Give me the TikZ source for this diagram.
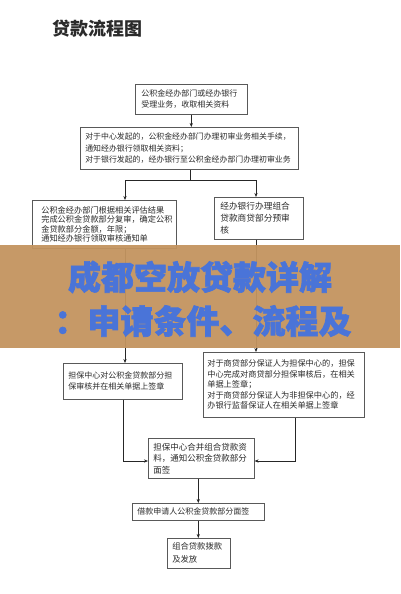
\documentclass[tikz,border=0pt]{standalone}
\usepackage{fontspec}
\newfontfamily\cjk{Noto Sans CJK SC}
\newfontfamily\cjkh{Noto Sans CJK SC}[BoldFeatures={FakeBold=2}]
\usetikzlibrary{arrows.meta}
\definecolor{bannerbg}{HTML}{C3945F}
\definecolor{bluetxt}{HTML}{4A74D8}
\definecolor{txt}{HTML}{2B2B2B}
\tikzset{
 box/.style={draw=black!65, line width=0.6pt, anchor=north west, inner ysep=0pt, align=left, text=txt},
 arr/.style={-{Stealth[length=4pt,width=3.2pt]}, line width=0.6pt, draw=black!85},
 ln/.style={line width=0.6pt, draw=black!85},
 bannertext/.style={font=\cjkh\bfseries\fontsize{33}{33}\selectfont, text=bluetxt, inner sep=0pt},
}
\begin{document}
\begin{tikzpicture}[x=1pt,y=-1pt]
\useasboundingbox[fill=white] (0,0) rectangle (400,594);
\node[font=\cjk\bfseries\fontsize{18}{18}\selectfont, text=txt, inner sep=0pt] (title) at (97.5,28.5) {贷款流程图};

\node[box, font=\cjk\fontsize{8}{11}\selectfont, minimum width=110pt, minimum height=30pt, text width=100pt, inner xsep=6pt] (b1) at (135,84) {公积金经办部门或经办银行\\受理业务，收取相关资料};

\node[box, font=\cjk\fontsize{7.9}{11.5}\selectfont, minimum width=218pt, minimum height=42pt, text width=208pt, inner xsep=5pt] (b2) at (80,127) {对于中心发起的，公积金经办部门办理初审业务相关手续，\\通知经办银行领取相关资料；\\对于银行发起的，经办银行至公积金经办部门办理初审业务};

\node[box, font=\cjk\fontsize{8.2}{9.3}\selectfont, minimum width=136pt, minimum height=48pt, text width=126pt, inner xsep=9pt] (b3) at (32,200) {公积金经办部门根据相关评估结果\\完成公积金贷款部分复审，确定公积\\金贷款部分金额，年限；\\通知经办银行领取审核通知单};

\node[box, font=\cjk\fontsize{8.7}{12}\selectfont, minimum width=83pt, minimum height=42pt, text width=77pt, inner xsep=6pt] (b4) at (214,197) {经办银行办理组合\\贷款商贷部分预审\\核};

\node[box, font=\cjk\fontsize{8}{11}\selectfont, minimum width=117pt, minimum height=36pt, text width=109pt, inner xsep=5pt] (b5) at (63,363) {担保中心对公积金贷款部分担\\保审核并在相关单据上签章};

\node[box, font=\cjk\fontsize{8.2}{10.5}\selectfont, minimum width=159pt, minimum height=65pt, text width=153pt, inner xsep=4pt] (b6) at (203,352) {对于商贷部分保证人为担保中心的，担保\\中心完成对商贷部分担保审核后，在相关\\单据上签章；\\对于商贷部分保证人为非担保中心的，经\\办银行监督保证人在相关单据上签章};

\node[box, font=\cjk\fontsize{8.5}{11.5}\selectfont, minimum width=104pt, minimum height=40pt, text width=96pt, inner xsep=5pt] (b7) at (148,438) {担保中心合并组合贷款资\\料，通知公积金贷款部分\\面签};

\node[box, font=\cjk\fontsize{8}{8}\selectfont, minimum width=130pt, minimum height=17pt, text width=122pt, inner xsep=5pt] (b8) at (132,503) {借款申请人公积金贷款部分面签};

\node[box, font=\cjk\fontsize{8.3}{13}\selectfont, minimum width=61pt, minimum height=30pt, text width=53pt, inner xsep=5pt] (b9) at (167,538) {组合贷款拨款\\及发放};

% connectors
\coordinate (sl) at (125,180);
\coordinate (sr) at (256,180);
\coordinate (sm) at (190,180);
\coordinate (mid) at (0,461);
\coordinate (rx) at (295,0);
\draw[arr] (b1.south) -- (b1.south |- b2.north);
\draw[ln] (sm |- b2.south) -- (sm);
\draw[ln] (sl) -- (sr);
\draw[arr] (sl) -- (sl |- b3.north);
\draw[arr] (sr) -- (sr |- b4.north);
\draw[arr] (sr |- b4.south) -- (sr |- b6.north);
\draw[arr] (sl |- b3.south) -- (sl |- b5.north);
\draw[arr] (b5.south) |- (b7.west |- mid);
\draw[arr] (rx |- b6.south) |- (b7.east |- mid);
\draw[arr] (b8.north |- b7.south) -- (b8.north);
\draw[arr] (b8.south) -- (b8.south |- b9.north);

% overlay banner
\fill[bannerbg, fill opacity=0.95] (0,245) rectangle (400,348);
\node[bannertext] (bt1) at (200,277) {成都空放贷款详解};
\node[bannertext] (bt2) at (203,321) {：申请条件、流程及};
\end{tikzpicture}
\end{document}
